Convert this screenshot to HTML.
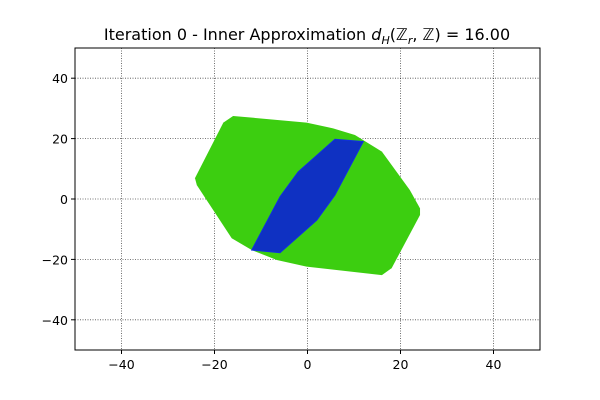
<!DOCTYPE html>
<html><head><meta charset="utf-8"><style>
body{margin:0;background:#fff}
svg{display:block;font-family:"DejaVu Sans","Liberation Sans",sans-serif}
</style></head><body>
<svg id="chart" width="600" height="400">
<rect width="600" height="400" fill="#fff"/>
<text x="307" y="40" text-anchor="middle" font-size="16">Iteration 0 - Inner Approximation <tspan font-style="italic">d</tspan><tspan font-size="11" dy="4" font-style="italic">H</tspan><tspan dy="-4">(ℤ</tspan><tspan font-size="11" dy="4" font-style="italic">r</tspan><tspan dy="-4">, ℤ) = 16.00</tspan></text>
<g id="grid"></g>
<g id="polys"></g>
<rect x="75" y="48" width="465" height="302" fill="none" stroke="#000" stroke-width="1"/>
<g id="ticks"></g>
</svg>
<script>
const xTicks=[-40,-20,0,20,40];
const yTicks=[-40,-20,0,20,40];
const outerX=[-16.0,-18.1,-24.2,-23.8,-16.3,-12.0,-6.6,-0.2,16.0,18.1,24.2,24.2,22.0,16.0,10.2,5.5,-0.2];
const outerY=[27.5,25.3,6.9,4.6,-13.0,-16.9,-20.2,-22.4,-25.2,-22.9,-5.3,-3.1,3.0,15.7,21.2,23.4,25.3];
const innerX=[5.9,12.0,5.9,2.0,-5.9,-12.0,-5.9,-2.0];
const innerY=[19.8,19.0,1.3,-7.0,-17.8,-16.9,0.8,9.0];
const L=75,R=540,T=48,B=350;
const sx=v=>L+(v+50)/100*(R-L);
const sy=v=>B-(v+50)/100*(B-T);
const NS="http://www.w3.org/2000/svg";
const grid=document.getElementById('grid'),ticks=document.getElementById('ticks'),polys=document.getElementById('polys');
function mk(tag,attrs,parent){const e=document.createElementNS(NS,tag);for(const k in attrs)e.setAttribute(k,attrs[k]);parent.appendChild(e);return e;}
xTicks.forEach(v=>{
 const g=mk('line',{x1:sx(v),x2:sx(v),y1:T,y2:B,stroke:'#000','stroke-width':0.8,'stroke-dasharray':'1,1.5',opacity:0.7},grid);
 
 
 mk('line',{x1:sx(v),x2:sx(v),y1:B,y2:B+4,stroke:'#000'},ticks);
 const t=mk('text',{x:sx(v),y:B+19,'text-anchor':'middle','font-size':12.5},ticks);
 t.textContent=v<0?'−'+Math.abs(v):v;
 
 
});
yTicks.forEach(v=>{
 const g=mk('line',{x1:L,x2:R,y1:sy(v),y2:sy(v),stroke:'#000','stroke-width':0.8,'stroke-dasharray':'1,1.5',opacity:0.7},grid);
 
 
 mk('line',{x1:L-4,x2:L,y1:sy(v),y2:sy(v),stroke:'#000'},ticks);
 const t=mk('text',{x:L-7,y:sy(v)+5,'text-anchor':'end','font-size':12.5},ticks);
 t.textContent=v<0?'−'+Math.abs(v):v;
 
 
});
const pts=(xs,ys)=>xs.map((x,i)=>sx(x)+','+sy(ys[i])).join(' ');
const o=mk('polygon',{points:pts(outerX,outerY),fill:'#3cce10'},polys);


const n=mk('polygon',{points:pts(innerX,innerY),fill:'#0f31c2',stroke:'#1030e0','stroke-width':1},polys);


</script>
</body></html>
